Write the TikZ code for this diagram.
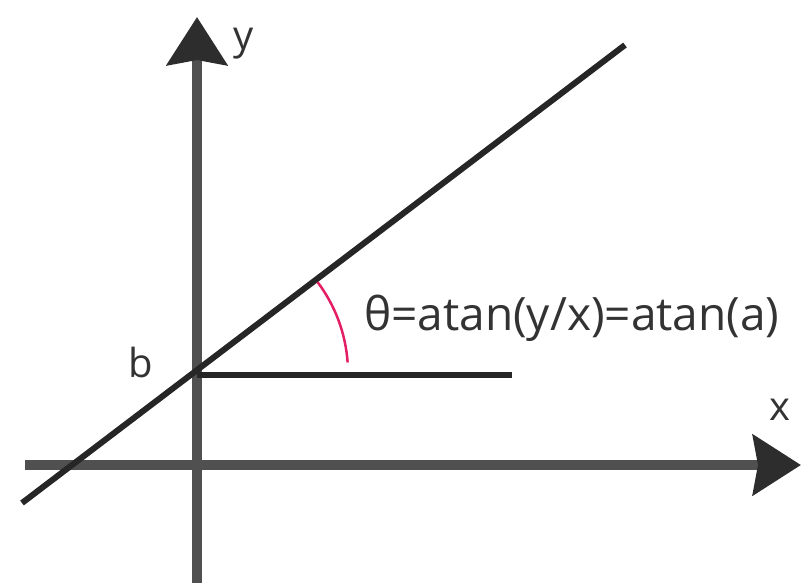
\documentclass[tikz,border=0pt]{standalone}
\usepackage{fontspec}
\setmainfont{Open Sans}
\usetikzlibrary{arrows.meta}
\definecolor{axisgray}{RGB}{80,80,80}
\definecolor{tipgray}{RGB}{45,45,45}
\definecolor{linedark}{RGB}{38,38,38}
\definecolor{anglepink}{RGB}{228,30,100}
\tikzset{
  axis/.style  ={draw=axisgray, line width=10pt,
                 -{Stealth[length=48pt, width=60pt, inset=5pt, color=tipgray]}},
  ln/.style    ={draw=linedark, line width=6pt},
  arcl/.style  ={draw=anglepink, line width=2.5pt},
  lbl/.style   ={text=black!80, font=\fontsize{40}{44}\selectfont, inner sep=0pt},
}
\begin{document}
\begin{tikzpicture}[x=1pt,y=-1pt]
\useasboundingbox (0,0) rectangle (801,582);
% axes
\coordinate (ybot) at (197,585);
\coordinate (ytop) at (197,17);
\coordinate (xleft) at (25,465);
\coordinate (xright) at (801,465);
\draw[axis] (ybot) -- (ytop);
\draw[axis] (xleft) -- (xright);
\node[lbl] (ylab) at (244,44) {y};
\node[lbl] (xlab) at (780,410) {x};
% line y = ax + b
\coordinate (b) at (197,373);
\coordinate (lstart) at (22,503);
\coordinate (lend) at (625,45);
\coordinate (hend) at (512,375);
\draw[ln] (lstart) -- (lend);
\draw[ln] (b|-hend) -- (hend);
\node[lbl] (blab) at (141,362) {b};
% angle
\draw[arcl] ([shift={(-4:151)}]b) arc[start angle=-4, end angle=-37, radius=151];
\node[lbl,anchor=base west,font=\fontsize{46}{50}\selectfont] (theta) at (364,330) {θ=atan(y/x)=atan(a)};
\end{tikzpicture}
\end{document}
